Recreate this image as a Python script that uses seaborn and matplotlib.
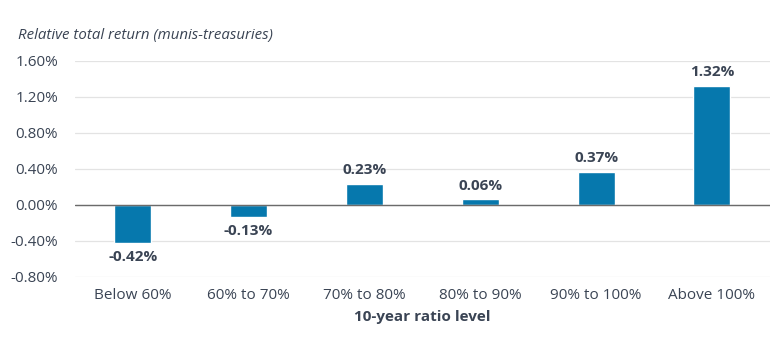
import matplotlib
matplotlib.use("Agg")
import matplotlib.pyplot as plt
import seaborn as sns
import pandas as pd
from matplotlib.ticker import FuncFormatter

categories = ["Below 60%", "60% to 70%", "70% to 80%", "80% to 90%", "90% to 100%", "Above 100%"]
values = [-0.42, -0.13, 0.23, 0.06, 0.37, 1.32]
yticks = [-0.8, -0.4, 0.0, 0.4, 0.8, 1.2, 1.6]

sns.set_theme(style="white")
plt.rcParams['font.family'] = ['Open Sans', 'DejaVu Sans']

text_color = "#3a4454"
bar_color = "#0678ad"

df = pd.DataFrame({"cat": categories, "val": values})

fig = plt.figure(figsize=(7.8, 3.5), dpi=100)
ax = fig.add_axes([0.096, 0.209, 0.891, 0.617])
sns.barplot(data=df, x="cat", y="val", color=bar_color, width=0.32, ax=ax, saturation=1)

ax.set_ylim(-0.8, 1.6)
ax.set_xlim(-0.5, 5.5)
ax.set_yticks(yticks)
ax.yaxis.set_major_formatter(FuncFormatter(lambda v, p: f"{v:.2f}%"))
ax.grid(axis="y", color="#e3e3e3", linewidth=0.9)
ax.set_axisbelow(True)
ax.axhline(0, color="#6b6b6b", linewidth=1.0, zorder=3)
for s in ax.spines.values():
    s.set_visible(False)
ax.tick_params(axis="both", length=0, labelsize=11, colors=text_color)
ax.tick_params(axis="y", pad=12)
ax.tick_params(axis="x", pad=8)
ax.set_xlabel("10-year ratio level", fontsize=11, fontweight="bold", color=text_color, labelpad=5)
ax.set_ylabel("")

for i, v in enumerate(values):
    if v >= 0:
        ax.annotate(f"{v:.2f}%", (i, v), xytext=(0, 5), textcoords="offset points",
                    ha="center", va="bottom", fontsize=11, fontweight="bold", color=text_color)
    else:
        ax.annotate(f"{v:.2f}%", (i, v), xytext=(0, -5), textcoords="offset points",
                    ha="center", va="top", fontsize=11, fontweight="bold", color=text_color)

fig.text(0.023, 0.9, "Relative total return (munis-treasuries)", fontsize=10.8, style="italic",
         color=text_color, ha="left", va="center")

fig.savefig("out.png", dpi=100)
